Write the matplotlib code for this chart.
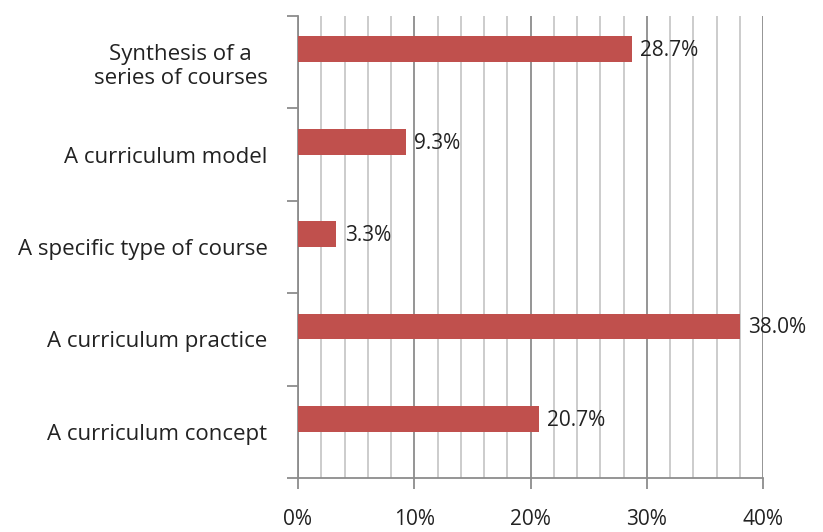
import numpy as np
import matplotlib
matplotlib.use("Agg")
import matplotlib.pyplot as plt
from matplotlib.ticker import MultipleLocator, FuncFormatter

matplotlib.rcParams['font.family'] = ['Open Sans', 'DejaVu Sans']

# 数据（从上到下）
categories = ["Synthesis of a\nseries of courses", "A curriculum model",
              "A specific type of course", "A curriculum practice",
              "A curriculum concept"]
values = [28.7, 9.3, 3.3, 38.0, 20.7]
value_labels = ["28.7%", "9.3%", "3.3%", "38.0%", "20.7%"]

fig = plt.figure(figsize=(8.23, 5.32), dpi=100)
ax = fig.add_axes([298 / 823, 1 - 478 / 532, (763 - 298) / 823, (478 - 16) / 532])

pos = np.arange(len(categories))
bar_pos = pos - 0.14
ax.barh(bar_pos, values, height=0.28, color="#C0504D", zorder=3)

for y, v, lab in zip(bar_pos, values, value_labels):
    ax.annotate(lab, (v, y), xytext=(6, -1), textcoords="offset points",
                va="center", ha="left", fontsize=15, color="#222222", zorder=4)

ax.set_xlim(0, 40)
ax.set_ylim(len(categories) - 0.5, -0.5)

ax.xaxis.set_major_locator(MultipleLocator(10))
ax.xaxis.set_minor_locator(MultipleLocator(2))
ax.xaxis.set_major_formatter(FuncFormatter(lambda x, p: "%d%%" % x))
ax.grid(axis="x", which="minor", color="#C8C8C8", lw=1.3, zorder=0)
ax.grid(axis="x", which="major", color="#8C8C8C", lw=1.3, zorder=1)

ax.set_yticks(pos)
ax.set_yticklabels(categories, fontsize=16, color="#222222", ha="right",
                   multialignment="center")
ax.set_yticks(np.arange(len(categories) + 1) - 0.5, minor=True)
ax.tick_params(axis="y", which="major", length=0, pad=22)
ax.tick_params(axis="y", which="minor", length=8, color="#8C8C8C", width=1.3)
ax.tick_params(axis="x", which="major", length=8, color="#8C8C8C", width=1.3,
               pad=14, labelsize=15, labelcolor="#222222")
ax.tick_params(axis="x", which="minor", length=0)

for s in ["top", "right"]:
    ax.spines[s].set_visible(False)
for s in ["left", "bottom"]:
    ax.spines[s].set_color("#8C8C8C")
    ax.spines[s].set_linewidth(1.3)

fig.savefig("out.png", dpi=100)
